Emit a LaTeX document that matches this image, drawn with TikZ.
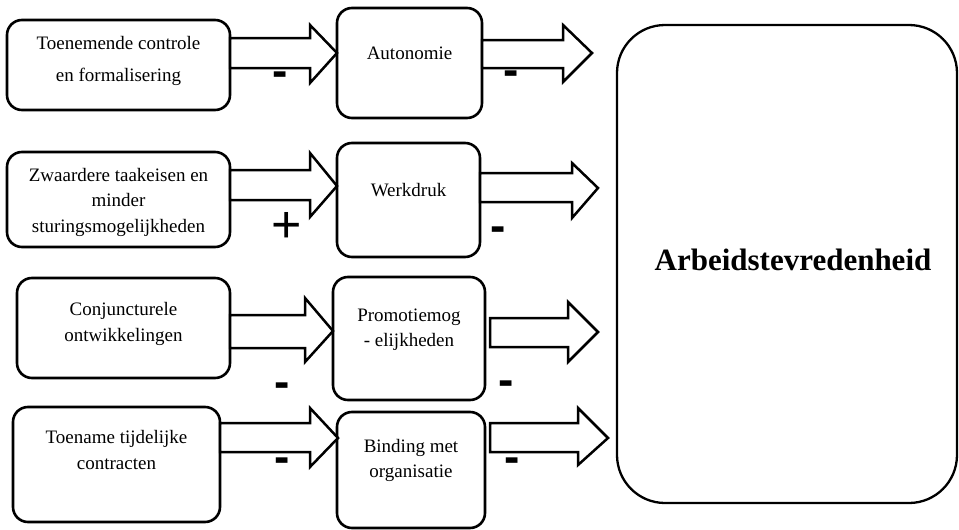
\documentclass[tikz,border=0pt]{standalone}
\usepackage{fontspec}
\setmainfont{Liberation Serif}
\newfontfamily\signfont{Liberation Sans}
\tikzset{
  box/.style={draw=black, line width=2.6pt, rounded corners=15pt, inner sep=0pt},
  bigbox/.style={draw=black, line width=2.3pt, rounded corners=48pt, inner sep=0pt},
  txt/.style={align=center, inner sep=0pt, font=\fontsize{19}{25.5}\selectfont},
  barr/.style={draw=black, line width=2.5pt, line join=miter, fill=white},
  minussign/.style={inner sep=0pt, anchor=base, font=\signfont\bfseries\fontsize{46}{46}\selectfont},
  plussign/.style={inner sep=0pt, anchor=base, font=\signfont\fontsize{52}{52}\selectfont}
}
\newcommand{\blockarr}[8]{%
  \draw[barr] (#1,#2) -- (#4,#2) -- (#4,#5) -- (#7,#8) -- (#4,#6) -- (#4,#3) -- (#1,#3) -- cycle;}
\begin{document}
\begin{tikzpicture}[x=1pt,y=-1pt]
\useasboundingbox (0,0) rectangle (959,530);
% left boxes
\node[box, minimum width=223pt, minimum height=90pt] (b1) at (118.5,65) {};
\node[txt] (t1) at (118.5,61) {Toenemende controle\\[7pt]en formalisering};
\node[box, minimum width=223pt, minimum height=95pt] (b2) at (118.5,199.5) {};
\node[txt] (t2) at (118.5,202) {Zwaardere taakeisen en\\minder\\sturingsmogelijkheden};
\node[box, minimum width=213pt, minimum height=100pt] (b3) at (123.5,328) {};
\node[txt] (t3) at (123.5,324) {Conjuncturele\\ontwikkelingen};
\node[box, minimum width=207pt, minimum height=115pt] (b4) at (116.5,464.5) {};
\node[txt] (t4) at (116.5,450) {Toename tijdelijke\\contracten};
% middle boxes
\node[box, minimum width=145pt, minimum height=110pt] (m1) at (409.5,63) {};
\node[txt] (u1) at (409.5,53) {Autonomie};
\node[box, minimum width=143pt, minimum height=114pt] (m2) at (408.5,200) {};
\node[txt] (u2) at (408.5,190) {Werkdruk};
\node[box, minimum width=152pt, minimum height=123pt] (m3) at (409,338.5) {};
\node[txt] (u3) at (409,329.5) {Promotiemog\\- elijkheden};
\node[box, minimum width=148pt, minimum height=116pt] (m4) at (411,470) {};
\node[txt] (u4) at (411,460.5) {Binding met\\organisatie};
% big box
\node[bigbox, minimum width=340pt, minimum height=478pt] (big) at (787,264) {};
\node[inner sep=0pt, font=\bfseries\fontsize{31}{31}\selectfont] (bt) at (793,260) {Arbeidstevredenheid};
% left arrows
\blockarr{230}{38}{68}{310}{25}{83}{337}{53}
\blockarr{230}{170}{200}{310}{153}{217}{337}{186}
\blockarr{230}{315}{348}{305}{298}{362}{333}{331}
\blockarr{220}{423}{452}{310}{408}{467}{338}{438}
% right arrows
\blockarr{482}{40}{68}{563}{25}{82}{592}{53}
\blockarr{480}{173}{202}{572}{163}{218}{598}{188}
\blockarr{490}{318}{347}{568}{302}{362}{598}{332}
\blockarr{490}{423}{452}{578}{408}{465}{608}{438}
% signs
\node[minussign] (s1) at (280,86) {-};
\node[plussign] (s2) at (287,242) {+};
\node[minussign] (s3) at (282,397) {-};
\node[minussign] (s4) at (282,472) {-};
\node[minussign] (r1) at (511,85) {-};
\node[minussign] (r2) at (498,241) {-};
\node[minussign] (r3) at (506,395) {-};
\node[minussign] (r4) at (512,472) {-};
\end{tikzpicture}
\end{document}
